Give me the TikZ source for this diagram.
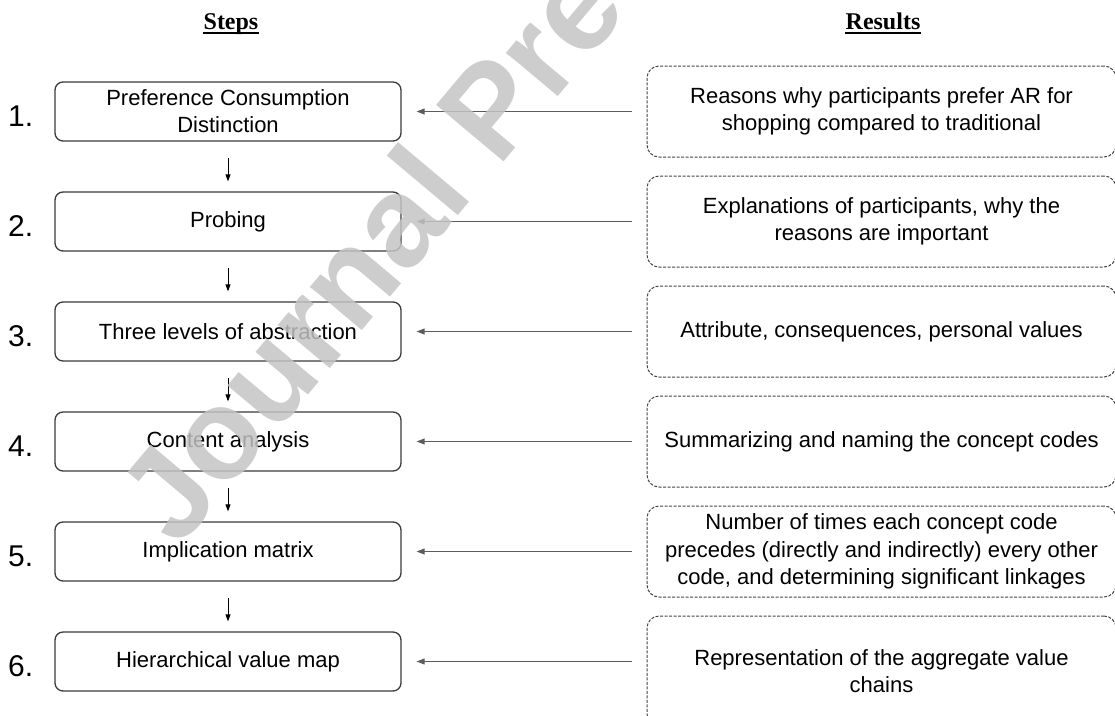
\documentclass[tikz,border=0pt]{standalone}
\usepackage{fontspec}
\setmainfont{Liberation Sans}
\newfontfamily\headfont{Liberation Serif}
\usetikzlibrary{arrows.meta}
\definecolor{boxline}{HTML}{3A3A3A}
\definecolor{resline}{HTML}{444444}
\definecolor{linkline}{HTML}{5C5C5C}
\definecolor{wmgray}{gray}{0.77}
\begin{document}
\begin{tikzpicture}[x=1pt,y=-1pt,
  stepbox/.style={draw=boxline, line width=1.3pt, rounded corners=8pt,
    minimum width=346pt, minimum height=59pt, inner sep=0pt, align=center,
    font=\fontsize{22}{27}\selectfont},
  resbox/.style={draw=resline, line width=1pt, dash pattern=on 3pt off 1.5pt,
    rounded corners=12pt, minimum width=469pt, minimum height=91pt,
    inner sep=0pt, align=center, font=\fontsize{22}{27.5}\selectfont},
  numlabel/.style={anchor=base west, inner sep=0pt, font=\fontsize{30}{36}\selectfont},
  head/.style={anchor=base, inner sep=0pt, font=\headfont\bfseries\fontsize{24}{28}\selectfont},
  link/.style={draw=linkline, line width=0.9pt, -{Triangle[length=8pt,width=6pt]}},
  flow/.style={draw=black, line width=0.9pt, -{Triangle[length=7pt,width=5pt]}},
  watermark/.style={anchor=base west, inner sep=0pt, rotate=50, text=wmgray,
    text opacity=0.84, font=\bfseries\fontsize{128}{134}\selectfont}]
\useasboundingbox (0,0) rectangle (1115,715);
\begin{scope}
\clip (0,0) rectangle (1115,715);

% column headings
\node[head] (hsteps) at (231,29) {Steps};
\node[head] (hres) at (883,29) {Results};
\draw[line width=1.5pt] ([yshift=-4pt]hsteps.base west) -- ([yshift=-4pt]hsteps.base east);
\draw[line width=1.5pt] ([yshift=-4pt]hres.base west) -- ([yshift=-4pt]hres.base east);

% steps
\node[stepbox] (s1) at (228,111.5) {Preference Consumption\\Distinction};
\node[stepbox] (s2) at (228,221.5) {Probing};
\node[stepbox] (s3) at (228,331.5) {Three levels of abstraction};
\node[stepbox] (s4) at (228,441.5) {Content analysis};
\node[stepbox] (s5) at (228,551.5) {Implication matrix};
\node[stepbox] (s6) at (228,661.5) {Hierarchical value map};

% step numbers
\node[numlabel] (n1) at (8,126.5) {1.};
\node[numlabel] (n2) at (8,236.5) {2.};
\node[numlabel] (n3) at (8,346.5) {3.};
\node[numlabel] (n4) at (8,456.5) {4.};
\node[numlabel] (n5) at (8,566.5) {5.};
\node[numlabel] (n6) at (8,676.5) {6.};

% results
\node[resbox] (r1) at (881.5,111.5) {Reasons why participants prefer AR for\\shopping compared to traditional};
\node[resbox] (r2) at (881.5,221.5) {Explanations of participants, why the\\reasons are important};
\node[resbox] (r3) at (881.5,331.5) {Attribute, consequences, personal values};
\node[resbox] (r4) at (881.5,441.5) {Summarizing and naming the concept codes};
\node[resbox] (r5) at (881.5,551.5) {Number of times each concept code\\precedes (directly and indirectly) every other\\code, and determining significant linkages};
\node[resbox, minimum height=110pt] (r6) at (881.5,671) {Representation of the aggregate value\\chains};

% result -> step links
\foreach \i in {1,...,5}{
  \draw[link] ([xshift=-15pt]r\i.west) -- ([xshift=15pt]s\i.east);
}
\draw[link] ([xshift=-15pt,yshift=9.5pt]r6.west) -- ([xshift=15pt]s6.east);

% step sequence
\foreach \i/\j in {1/2,2/3,3/4,4/5,5/6}{
  \draw[flow] ([yshift=-16pt]s\i.south) -- ([yshift=10pt]s\j.north);
}

% overprinted watermark
\node[watermark] (wm) at (178,550) {Journal Pre-proof};
\end{scope}
\end{tikzpicture}
\end{document}
